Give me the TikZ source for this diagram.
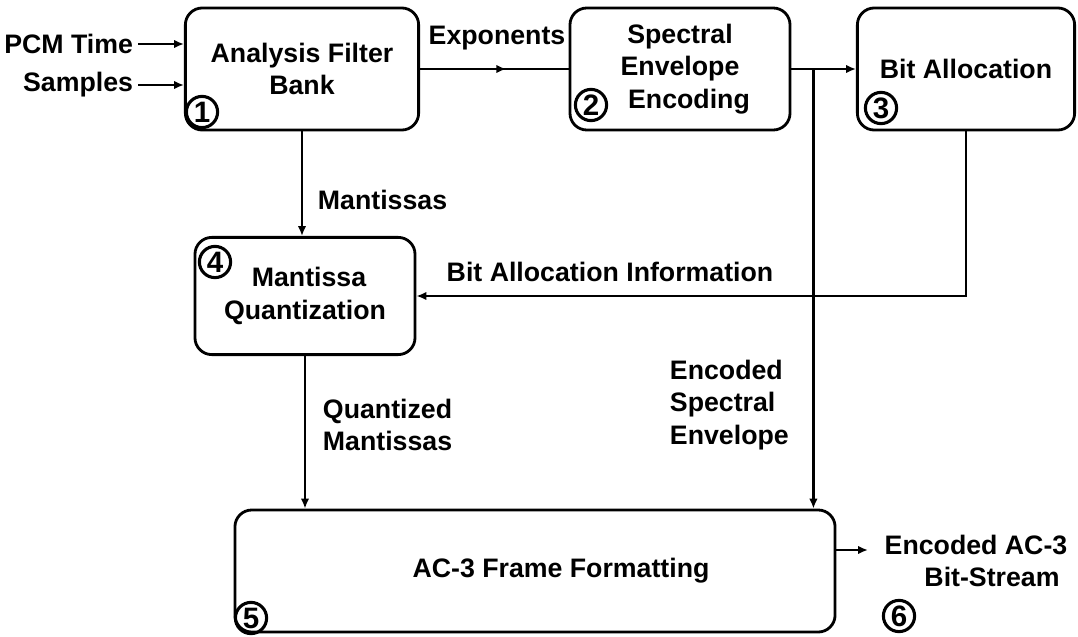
\documentclass[tikz,border=0pt]{standalone}
\usepackage{fontspec}
\setmainfont{Liberation Sans}
\usetikzlibrary{arrows.meta,calc,decorations.markings}
\newcommand{\txtfont}{\fontsize{19}{23}\selectfont\bfseries}
\tikzset{
  block/.style={draw, line width=2pt, rounded corners=12pt, align=center, font=\txtfont},
  num/.style={draw, circle, line width=2.2pt, inner sep=0pt, minimum size=0.78cm, font=\fontsize{21}{23}\selectfont\bfseries},
  lbl/.style={align=center, font=\txtfont},
  conn/.style={line width=1.8pt},
  tip/.style={-{Latex[length=7pt,width=6pt]}},
  midtip/.style={postaction={decorate}, decoration={markings, mark=at position 0.58 with {\arrow{Latex[length=7pt,width=6pt]}}}}
}
\begin{document}
\begin{tikzpicture}[x=0.025cm, y=-0.025cm]
        \useasboundingbox (0,0) rectangle (1078,637);
        % blocks
        \node[block, minimum width=5.83cm, minimum height=3.05cm] (afb) at (302,69) {Analysis Filter\\Bank};
        \node[block, minimum width=5.5cm, minimum height=3.05cm] (see) at (680,69) {Spectral\\Envelope\\\hspace*{0.45cm}Encoding};
        \node[block, minimum width=5.43cm, minimum height=3.05cm] (ba) at (966,69) {Bit Allocation};
        \node[block, minimum width=5.5cm, minimum height=2.93cm] (mq) at (305,296) {\hspace*{0.2cm}Mantissa\\Quantization};
        \node[block, minimum width=15cm, minimum height=3.05cm] (aff) at (535,571) {\hspace*{1.3cm}AC-3 Frame Formatting};
        % numbers
        \node[num] (n1) at (202,112) {1};
        \node[num] (n2) at (591,105) {2};
        \node[num] (n3) at (881,108) {3};
        \node[num] (n4) at (215,262) {4};
        \node[num] (n5) at (251,618) {5};
        \node[num] (n6) at (899,616) {6};
        % outside texts
        \node[lbl, anchor=east] (pcm) at (138,44) {PCM Time};
        \node[lbl, anchor=east] (smp) at (138,85) {Samples};
        \node[lbl] (expo) at (497,38) {Exponents};
        \node[lbl, anchor=west] (mant) at (313,200) {Mantissas};
        \node[lbl] (bai) at (610,272) {Bit Allocation Information};
        \node[lbl, anchor=west, align=left] (qm) at (318,425) {Quantized\\Mantissas};
        \node[lbl, anchor=west, align=left] (ese) at (665,405) {Encoded\\Spectral\\Envelope};
        \node[lbl] (out) at (976,561) {Encoded AC-3\\\hspace*{0.8cm}Bit-Stream};
        % points
        \coordinate (br)  at ($(see.east)+(22,0)$);
        \coordinate (bs)  at (868,550);
        % connectors
        \draw[conn, tip] (pcm.east) -- (afb.west |- pcm.east);
        \draw[conn, tip] (smp.east) -- (afb.west |- smp.east);
        \draw[conn, midtip] (afb.east) -- (see.west);
        \draw[conn, tip] (see.east) -- (ba.west);
        \draw[conn, tip] (br) -- (br |- aff.north);
        \draw[conn, tip] (afb.south) -- (afb.south |- mq.north);
        \draw[conn, tip] (ba.south) -- (ba.south |- mq.east) -- (mq.east);
        \draw[conn, tip] (mq.south) -- (mq.south |- aff.north);
        \draw[conn, tip] (aff.east |- bs) -- (bs);
    \end{tikzpicture}
\end{document}
